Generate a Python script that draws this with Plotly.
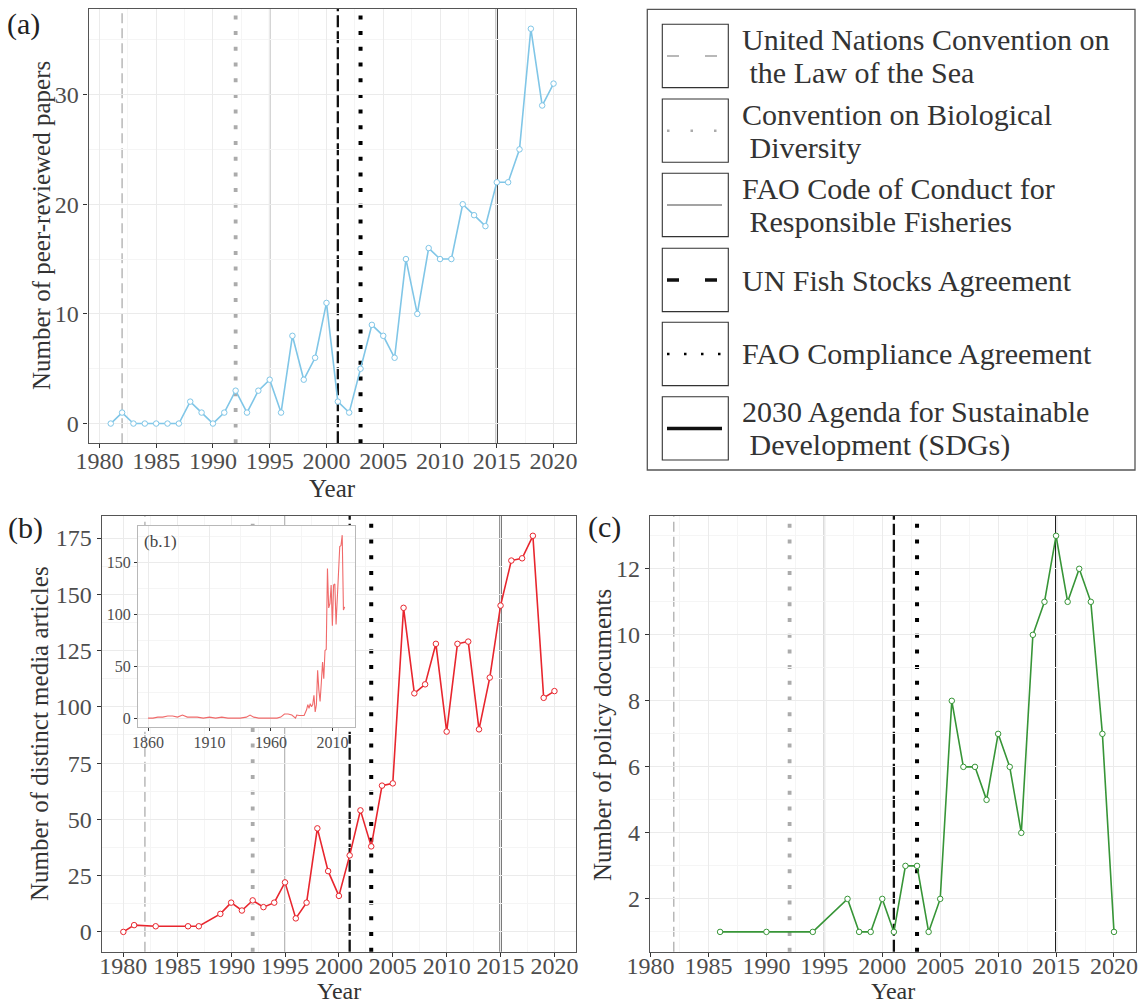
import plotly.graph_objects as go

# ---------------- data ----------------
years_a = [1981, 1982, 1983, 1984, 1985, 1986, 1987, 1988, 1989, 1990,
           1991, 1992, 1993, 1994, 1995, 1996, 1997, 1998, 1999, 2000,
           2001, 2002, 2003, 2004, 2005, 2006, 2007, 2008, 2009, 2010,
           2011, 2012, 2013, 2014, 2015, 2016, 2017, 2018, 2019, 2020]
papers = [0, 1, 0, 0, 0, 0, 0, 2, 1, 0,
          1, 3, 1, 3, 4, 1, 8, 4, 6, 11,
          2, 1, 5, 9, 8, 6, 15, 10, 16, 15,
          15, 20, 19, 18, 22, 22, 25, 36, 29, 31]

years_b = [1980, 1981, 1983, 1986, 1987, 1989, 1990, 1991, 1992, 1993,
           1994, 1995, 1996, 1997, 1998, 1999, 2000, 2001, 2002, 2003,
           2004, 2005, 2006, 2007, 2008, 2009, 2010, 2011, 2012, 2013,
           2014, 2015, 2016, 2017, 2018, 2019, 2020]
media = [0, 3, 2.5, 2.5, 2.5, 8, 13, 9.5, 14, 11,
         13, 22, 6, 13, 46, 27, 16, 34, 54, 38,
         65, 66, 144, 106, 110, 128, 89, 128, 129, 90,
         113, 145, 165, 166, 176, 104, 107]

years_inset_early = [1860, 1864, 1868, 1872, 1876, 1880, 1884, 1888, 1892, 1896,
                     1900, 1905, 1910, 1915, 1920, 1925, 1930, 1935, 1940, 1943,
                     1946, 1950, 1955, 1960, 1965, 1968, 1971, 1974, 1977]
media_inset_early = [0, 0, 1, 1, 2, 2, 1, 3, 1, 1,
                     1, 0, 1, 0, 1, 0, 0, 0, 1, 3,
                     1, 0, 0, 0, 0, 1, 4, 4, 3]

years_c = [1986, 1990, 1994, 1997, 1998, 1999, 2000, 2001, 2002, 2003,
           2004, 2005, 2006, 2007, 2008, 2009, 2010, 2011, 2012, 2013,
           2014, 2015, 2016, 2017, 2018, 2019, 2020]
policy = [1, 1, 1, 2, 1, 1, 2, 1, 3, 3,
          1, 2, 8, 6, 6, 5, 7, 6, 4, 10,
          11, 13, 11, 12, 11, 7, 1]

event_years = [1982, 1992, 1995, 2001, 2003, 2015]
event_labels = [
    ["United Nations Convention on", "\u00a0the Law of the Sea"],
    ["Convention on Biological", "\u00a0Diversity"],
    ["FAO Code of Conduct for", "\u00a0Responsible Fisheries"],
    ["UN Fish Stocks Agreement"],
    ["FAO Compliance Agreement"],
    ["2030 Agenda for Sustainable", "\u00a0Development (SDGs)"],
]

x_ticks_main = [1980, 1985, 1990, 1995, 2000, 2005, 2010, 2015, 2020]
x_ticks_inset = [1860, 1910, 1960, 2010]

# ---------------- styles ----------------
W, H = 1143, 1006
FONT = "Liberation Serif"
TICK_COL = "#4D4D4D"
TITLE_COL = "#333333"
BORDER = "#555555"

event_styles = [
    dict(color="#B8B8B8", dash="10px,5px", width=1.5),
    dict(color="#ABABAB", dash="4px,11.7px", width=3.8),
    dict(color="#A3A3A3", dash="solid", width=1.5),
    dict(color="#111111", dash="12px,4px", width=2.3),
    dict(color="#000000", dash="4px,11.7px", width=4),
    dict(color="#111111", dash="solid", width=2),
]
legend_dash = ["12px,26px", "2.5px,21px", "solid", "12px,26px", "2.5px,14.5px", "solid"]
legend_width = [2, 2.5, 2, 3.5, 2.5, 3.5]


def px_x(v):
    return v / W


def px_y(v):
    return 1 - v / H


fig = go.Figure()

col_a, col_b, col_c = "#80C6E7", "#E8262E", "#379537"


def add_series(x, y, color, xa, ya):
    fig.add_trace(go.Scatter(
        x=x, y=y, mode="lines+markers", xaxis=xa, yaxis=ya,
        line=dict(color=color, width=1.6),
        marker=dict(size=5.5, color="white", line=dict(color=color, width=1)),
        showlegend=False, hoverinfo="skip"))


add_series(years_a, papers, col_a, "x", "y")
add_series(years_b, media, col_b, "x2", "y2")
add_series(years_c, policy, col_c, "x3", "y3")
fig.add_trace(go.Scatter(
    x=years_inset_early + years_b, y=media_inset_early + media,
    mode="lines", xaxis="x4", yaxis="y4",
    line=dict(color="#F06A6A", width=1.1), showlegend=False, hoverinfo="skip"))

shapes = []
for xr, yr in [("x", "y"), ("x2", "y2"), ("x3", "y3")]:
    for yv, st in zip(event_years, event_styles):
        shapes.append(dict(type="line", xref=xr, yref=yr + " domain",
                           x0=yv, x1=yv, y0=0, y1=1, layer="below",
                           line=dict(color=st["color"], dash=st["dash"], width=st["width"])))

# legend box
shapes.append(dict(type="rect", xref="paper", yref="paper",
                   x0=px_x(647.3), x1=px_x(1135), y0=px_y(470), y1=px_y(9.3),
                   line=dict(color=BORDER, width=1.3), fillcolor="rgba(0,0,0,0)"))
key_tops = [24.3, 99, 173.3, 248.3, 322.3, 396.7]
annotations = []
for i, (top, st, lab) in enumerate(zip(key_tops, event_styles, event_labels)):
    shapes.append(dict(type="rect", xref="paper", yref="paper",
                       x0=px_x(662.3), x1=px_x(728.3), y0=px_y(top + 63.3), y1=px_y(top),
                       line=dict(color="#333333", width=1.1), fillcolor="rgba(0,0,0,0)"))
    cy = top + 31.7
    shapes.append(dict(type="line", xref="paper", yref="paper",
                       x0=px_x(667), x1=px_x(722), y0=px_y(cy), y1=px_y(cy),
                       line=dict(color=st["color"], dash=legend_dash[i], width=legend_width[i])))
    if len(lab) == 1:
        ys = [cy]
    else:
        ys = [cy - 16.5, cy + 16.5]
    for txt, yy in zip(lab, ys):
        annotations.append(dict(text=txt, xref="paper", yref="paper", x=px_x(740), y=px_y(yy),
                                xanchor="left", yanchor="middle", showarrow=False,
                                font=dict(family=FONT, size=30, color="#333333")))

# panel labels and axis titles
for txt, x, y in [("(a)", 23, 24), ("(b)", 25, 528), ("(c)", 604, 527)]:
    annotations.append(dict(text=txt, xref="paper", yref="paper", x=px_x(x), y=px_y(y),
                            xanchor="center", yanchor="middle", showarrow=False,
                            font=dict(family=FONT, size=30, color="#222222")))
for txt, x, y in [("Number of peer-reviewed papers", 42, 226),
                  ("Number of distinct media articles", 39, 734),
                  ("Number of policy documents", 602, 735)]:
    annotations.append(dict(text=txt, xref="paper", yref="paper", x=px_x(x), y=px_y(y),
                            textangle=-90, xanchor="center", yanchor="middle", showarrow=False,
                            font=dict(family=FONT, size=25, color=TITLE_COL)))
annotations.append(dict(text="Year", xref="paper", yref="paper", x=px_x(332), y=px_y(489),
                        xanchor="center", yanchor="middle", showarrow=False,
                        font=dict(family=FONT, size=25, color=TITLE_COL)))
for x in [339, 893]:
    annotations.append(dict(text="Year", xref="paper", yref="paper", x=px_x(x), y=0,
                            xanchor="center", yanchor="bottom", showarrow=False,
                            font=dict(family=FONT, size=24, color=TITLE_COL)))
annotations.append(dict(text="(b.1)", xref="paper", yref="paper", x=px_x(142), y=px_y(541),
                        xanchor="left", yanchor="middle", showarrow=False,
                        font=dict(family=FONT, size=17, color="#444444")))


def xax(domain, rng, ticks, minor, anchor, size=24, border=BORDER, standoff=-8):
    return dict(domain=domain, range=rng, tickmode="array", tickvals=ticks,
                showgrid=True, gridcolor="#EBEBEB", gridwidth=1,
                minor=dict(dtick=minor, tick0=ticks[0], showgrid=True, gridcolor="#F5F5F5", gridwidth=1),
                ticks="outside", ticklen=4, tickcolor="#333333", tickwidth=1,
                ticklabelstandoff=standoff,
                showline=True, mirror=True, linecolor=border, linewidth=1.3,
                zeroline=False, anchor=anchor, automargin=False,
                tickfont=dict(family=FONT, size=size, color=TICK_COL))


def yax(domain, rng, dtick, minor, anchor, size=24, border=BORDER, tick0=0):
    return dict(domain=domain, range=rng, tick0=tick0, dtick=dtick,
                showgrid=True, gridcolor="#EBEBEB", gridwidth=1,
                minor=dict(dtick=minor, tick0=tick0, showgrid=True, gridcolor="#F5F5F5", gridwidth=1),
                ticks="outside", ticklen=4, tickcolor="#333333", tickwidth=1,
                showline=True, mirror=True, linecolor=border, linewidth=1.3,
                zeroline=False, anchor=anchor, automargin=False,
                tickfont=dict(family=FONT, size=size, color=TICK_COL))


fig.update_layout(
    width=W, height=H, margin=dict(l=0, r=0, t=0, b=0),
    paper_bgcolor="white", plot_bgcolor="white", template="none",
    showlegend=False,
    xaxis=xax([px_x(88.6), px_x(575.7)], [1979.05, 2021.95], x_ticks_main, 2.5, "y"),
    yaxis=yax([px_y(443.3), px_y(9)], [-1.8, 37.8], 10, 5, "x"),
    xaxis2=xax([px_x(101.8), px_x(576)], [1978, 2022], x_ticks_main, 2.5, "y2", standoff=-12),
    yaxis2=yax([px_y(951.7), px_y(516)], [-8.8, 184.8], 25, 12.5, "x2"),
    xaxis3=xax([px_x(650), px_x(1136)], [1979.95, 2021.9], x_ticks_main, 2.5, "y3", standoff=-12),
    yaxis3=yax([px_y(951.7), px_y(516)], [0.4, 13.6], 2, 1, "x3", tick0=0),
    xaxis4=xax([px_x(138.2), px_x(354.5)], [1852, 2028], x_ticks_inset, 25, "y4",
               size=16, border="#B8B8B8", standoff=-3),
    yaxis4=yax([px_y(727.3), px_y(526)], [-8.8, 184.8], 50, 25, "x4",
               size=16, border="#B8B8B8"),
    shapes=shapes, annotations=annotations,
)
fig.update_xaxes(ticklen=3, selector=dict(anchor="y4"))
fig.update_yaxes(ticklen=3, selector=dict(anchor="x4"))

fig.write_html("out.html", config={"displayModeBar": False},
               post_script="document.body.style.margin='0px';document.body.style.overflow='hidden';")
